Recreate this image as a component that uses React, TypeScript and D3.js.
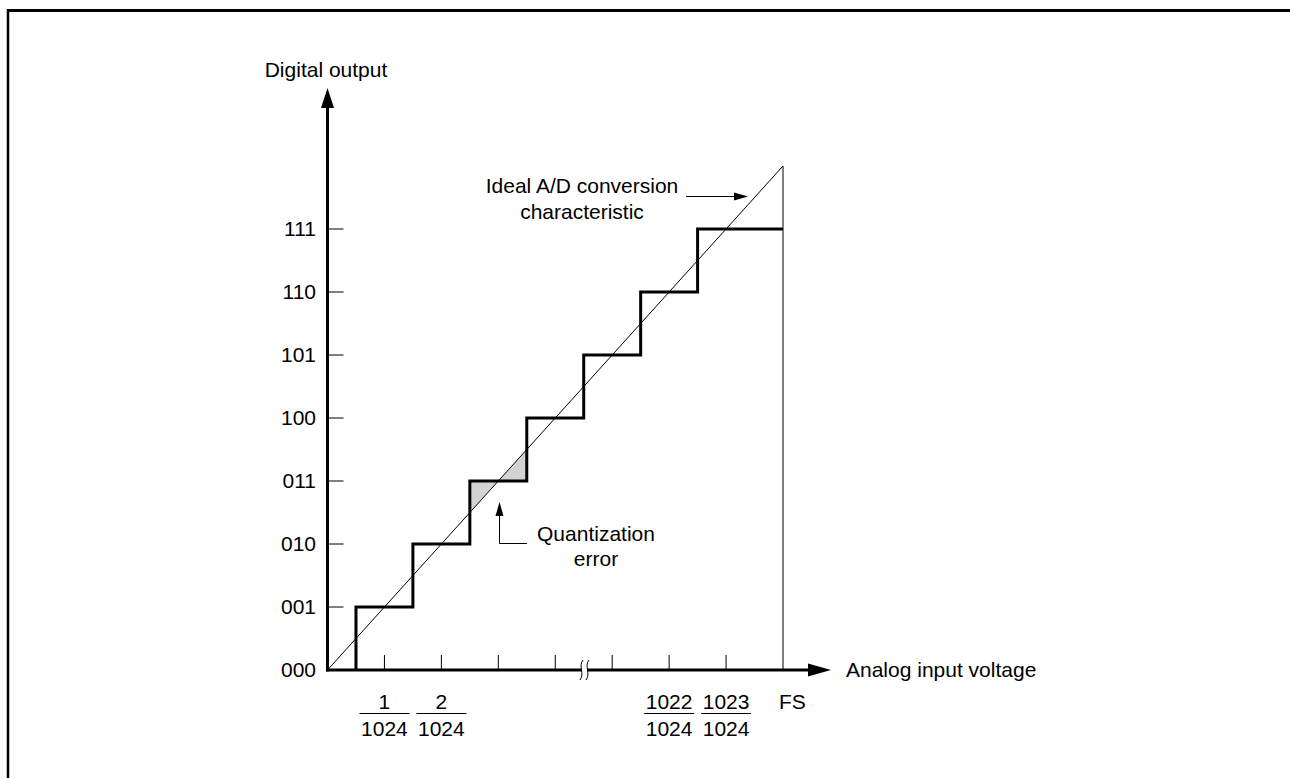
import * as d3 from 'd3';
import { useEffect, useRef } from 'react';

// Output codes on the y axis (one per LSB level)
const codes = ['000', '001', '010', '011', '100', '101', '110', '111'];

// Staircase: code level held between x0 and x1 (in LSB units of input)
const stepX0 = [0, 0.5, 1.5, 2.5, 3.5, 4.5, 5.5, 6.5];
const stepX1 = [0.5, 1.5, 2.5, 3.5, 4.5, 5.5, 6.5, 8];
const stepLevel = [0, 1, 2, 3, 4, 5, 6, 7];

// Minor ticks on the analog axis
const xTicks = [1, 2, 3, 4, 5, 6, 7];

// Fraction labels under the analog axis
const fracPos = [1, 2, 6, 7];
const fracNum = ['1', '2', '1022', '1023'];
const fracDen = ['1024', '1024', '1024', '1024'];

// Shaded quantization error areas (x, y pairs in LSB units)
const errorAreas: [number, number][][] = [
  [[2.5, 2.5], [2.5, 3], [3, 3]],
  [[3, 3], [3.5, 3], [3.5, 3.5]],
];

const FONT = '"Liberation Sans", Arial, Helvetica, sans-serif';

const App = () => {
  const ref = useRef<SVGSVGElement>(null);

  useEffect(() => {
    const svg = d3.select(ref.current);
    svg.selectAll('*').remove();

    const width = 1290, height = 778;
    svg.attr('width', width).attr('height', height);

    const x = d3.scaleLinear().domain([0, 8]).range([327.5, 783]);
    const y = d3.scaleLinear().domain([0, 8]).range([670, 166]);
    const fs = 21;

    // filled arrowhead: tip at (tx, ty), pointing in direction (dx, dy)
    const head = (tx: number, ty: number, dx: number, dy: number, len: number, half: number) => {
      const bx = tx - dx * len, by = ty - dy * len;
      const px = -dy * half, py = dx * half;
      svg.append('path')
        .attr('d', `M${tx},${ty} L${bx + px},${by + py} L${bx - px},${by - py} Z`)
        .attr('fill', '#000');
    };

    // frame
    svg.append('line').attr('x1', 8).attr('x2', width).attr('y1', 10.5).attr('y2', 10.5)
      .attr('stroke', '#000').attr('stroke-width', 3);
    svg.append('line').attr('x1', 8).attr('x2', 8).attr('y1', 9).attr('y2', height)
      .attr('stroke', '#000').attr('stroke-width', 2.5);

    // quantization error shading
    const line = d3.line<[number, number]>().x(d => x(d[0])).y(d => y(d[1]));
    svg.selectAll('path.err').data(errorAreas).enter().append('path')
      .attr('class', 'err')
      .attr('d', d => line(d) + 'Z')
      .attr('fill', '#d3d3d3');

    // y ticks + labels
    codes.forEach((c, i) => {
      if (i > 0) {
        svg.append('line').attr('x1', x(0)).attr('x2', x(0) + 16)
          .attr('y1', y(i)).attr('y2', y(i)).attr('stroke', '#000').attr('stroke-width', 1);
      }
      svg.append('text').text(c)
        .attr('x', 316).attr('y', y(i)).attr('dy', '0.35em')
        .attr('text-anchor', 'end').attr('font-size', fs).attr('font-family', FONT);
    });

    // x ticks
    svg.selectAll('line.xt').data(xTicks).enter().append('line')
      .attr('x1', d => x(d)).attr('x2', d => x(d))
      .attr('y1', y(0)).attr('y2', y(0) - 15)
      .attr('stroke', '#000').attr('stroke-width', 1);

    // FS vertical and ideal line
    svg.append('line').attr('x1', x(8)).attr('x2', x(8)).attr('y1', y(0)).attr('y2', y(8))
      .attr('stroke', '#000').attr('stroke-width', 1);
    svg.append('line').attr('x1', x(0)).attr('x2', x(8)).attr('y1', y(0)).attr('y2', y(8))
      .attr('stroke', '#000').attr('stroke-width', 1);

    // staircase
    const pts: [number, number][] = [];
    stepLevel.forEach((lv, i) => {
      pts.push([stepX0[i], lv]);
      pts.push([stepX1[i], lv]);
    });
    svg.append('path').attr('d', line(pts.slice(1)))
      .attr('fill', 'none').attr('stroke', '#000').attr('stroke-width', 3)
      .attr('stroke-linejoin', 'miter');

    // axes
    svg.append('line').attr('x1', x(0)).attr('x2', x(0)).attr('y1', y(0) + 1.5).attr('y2', 104)
      .attr('stroke', '#000').attr('stroke-width', 3);
    head(x(0), 88, 0, -1, 20, 6.5);
    svg.append('line').attr('x1', x(0) - 1.5).attr('x2', 812).attr('y1', y(0)).attr('y2', y(0))
      .attr('stroke', '#000').attr('stroke-width', 3);
    head(831, y(0), 1, 0, 23, 6.5);

    // axis break
    const bx = 584;
    svg.append('rect').attr('x', bx - 2).attr('y', y(0) - 3).attr('width', 5).attr('height', 6).attr('fill', '#fff');
    [bx - 3, bx + 3].forEach(cx => {
      svg.append('path')
        .attr('d', `M${cx + 2},${y(0) - 10} C${cx - 3},${y(0) - 4} ${cx + 4},${y(0) + 4} ${cx - 1},${y(0) + 10}`)
        .attr('fill', 'none').attr('stroke', '#000').attr('stroke-width', 1);
    });

    // axis titles
    svg.append('text').text('Digital output').attr('x', 326).attr('y', 77)
      .attr('text-anchor', 'middle').attr('font-size', fs).attr('font-family', FONT);
    svg.append('text').text('Analog input voltage').attr('x', 846).attr('y', y(0)).attr('dy', '0.35em')
      .attr('font-size', fs).attr('font-family', FONT);

    // fraction labels
    fracPos.forEach((p, i) => {
      const g = svg.append('g').attr('transform', `translate(${x(p)},0)`);
      g.append('text').text(fracNum[i]).attr('x', 0).attr('y', 709)
        .attr('text-anchor', 'middle').attr('font-size', fs).attr('font-family', FONT);
      g.append('line').attr('x1', -25).attr('x2', 25).attr('y1', 713.5).attr('y2', 713.5)
        .attr('stroke', '#000').attr('stroke-width', 1);
      g.append('text').text(fracDen[i]).attr('x', 0).attr('y', 736)
        .attr('text-anchor', 'middle').attr('font-size', fs).attr('font-family', FONT);
    });
    svg.append('text').text('FS').attr('x', 779).attr('y', 709)
      .attr('font-size', fs).attr('font-family', FONT);

    // ideal characteristic annotation
    svg.append('text').attr('x', 582).attr('y', 193).attr('text-anchor', 'middle')
      .attr('font-size', fs).attr('font-family', FONT).text('Ideal A/D conversion');
    svg.append('text').attr('x', 582).attr('y', 219).attr('text-anchor', 'middle')
      .attr('font-size', fs).attr('font-family', FONT).text('characteristic');
    svg.append('line').attr('x1', 686).attr('x2', 738).attr('y1', 196.5).attr('y2', 196.5)
      .attr('stroke', '#000').attr('stroke-width', 1);
    head(748, 196.5, 1, 0, 14, 4);

    // quantization error annotation
    svg.append('path').attr('d', `M527,543.5 H499.5 V510`)
      .attr('fill', 'none').attr('stroke', '#000').attr('stroke-width', 1);
    head(499.5, 502, 0, -1, 14, 4);
    svg.append('text').attr('x', 596).attr('y', 541).attr('text-anchor', 'middle')
      .attr('font-size', fs).attr('font-family', FONT).text('Quantization');
    svg.append('text').attr('x', 596).attr('y', 566).attr('text-anchor', 'middle')
      .attr('font-size', fs).attr('font-family', FONT).text('error');
  }, []);

  return <svg ref={ref} style={{ position: 'absolute', left: 0, top: 0 }}></svg>;
};

export default App;
